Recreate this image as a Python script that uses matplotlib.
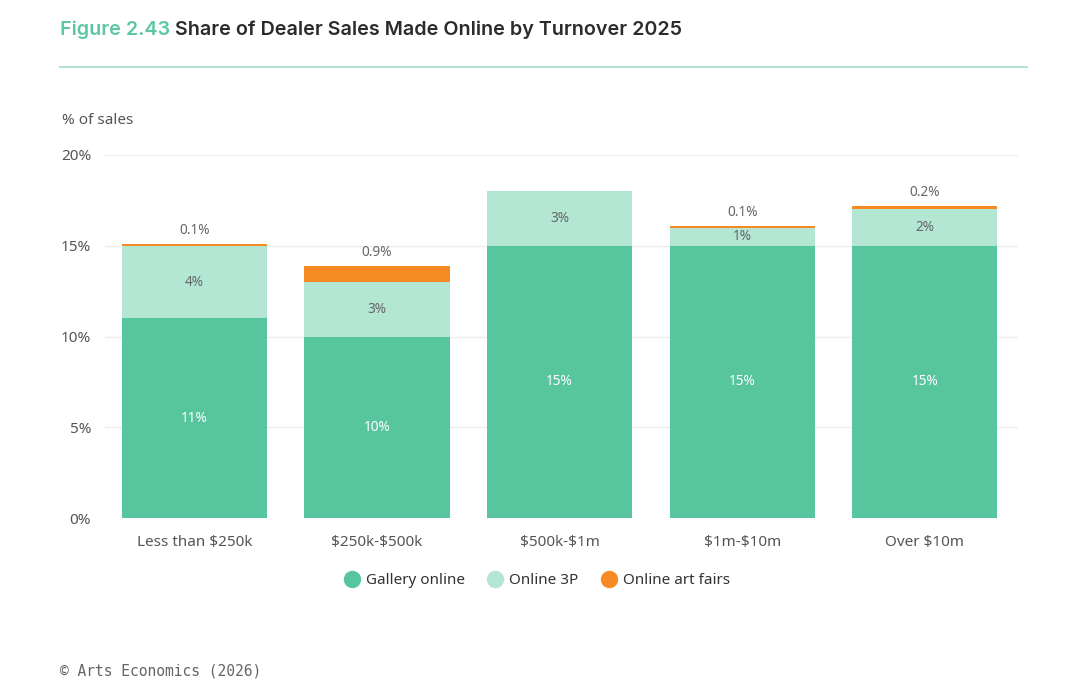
import matplotlib
matplotlib.use("Agg")
import matplotlib.pyplot as plt
from matplotlib.lines import Line2D

plt.rcParams["text.parse_math"] = False

categories = ["Less than $250k", "$250k-$500k", "$500k-$1m", "$1m-$10m", "Over $10m"]
gallery_online = [11, 10, 15, 15, 15]
online_3p = [4, 3, 3, 1, 2]
online_fairs = [0.1, 0.9, 0.0, 0.1, 0.2]
series_names = ["Gallery online", "Online 3P", "Online art fairs"]
y_ticks = [0, 5, 10, 15, 20]

c_gal = "#57c59e"
c_3p = "#b3e6d3"
c_fair = "#f58b22"
txt_gray = "#666666"
font = ["Noto Sans", "DejaVu Sans"]

fig = plt.figure(figsize=(10.8, 6.95), dpi=100)
ax = fig.add_axes([105/1080, 1-518/695, (1018-105)/1080, (518-155)/695])

x = list(range(len(categories)))
w = 0.795
ax.bar(x, gallery_online, width=w, color=c_gal, zorder=2)
ax.bar(x, online_3p, width=w, bottom=gallery_online, color=c_3p, zorder=2)
bottoms2 = [g + p for g, p in zip(gallery_online, online_3p)]
ax.bar(x, online_fairs, width=w, bottom=bottoms2, color=c_fair, zorder=2)

for i in x:
    g, p, f = gallery_online[i], online_3p[i], online_fairs[i]
    ax.text(i, g/2, f"{g:g}%", ha="center", va="center", color="white", fontsize=9.8, family=font, zorder=3)
    ax.text(i, g + p/2, f"{p:g}%", ha="center", va="center", color=txt_gray, fontsize=9.8, family=font, zorder=3)
    if f > 0:
        ax.annotate(f"{f:g}%", (i, g + p + f), xytext=(0, 4), textcoords="offset points",
                    ha="center", va="bottom", color=txt_gray, fontsize=9.8, family=font)

ax.set_xlim(-0.49, 4.51)
ax.set_ylim(0, 20)
ax.set_yticks(y_ticks)
ax.set_yticklabels([f"{t}%" for t in y_ticks])
ax.set_xticks(x)
ax.set_xticklabels(categories)
for lab in ax.get_xticklabels() + ax.get_yticklabels():
    lab.set_family(font)
    lab.set_fontsize(11)
    lab.set_color("#555555")
ax.tick_params(axis="both", length=0)
ax.tick_params(axis="x", pad=12)
ax.tick_params(axis="y", pad=10)
ax.grid(axis="y", color="#eeeeee", linewidth=1, zorder=0)
for s in ax.spines.values():
    s.set_visible(False)

# title
fig.text(60/1080, 1-30/695, "Figure 2.43", color="#5cc8a0", fontsize=14.2, family=["Inter", "DejaVu Sans"],
         fontweight="semibold", va="center", ha="left")
fig.text(175/1080, 1-30/695, "Share of Dealer Sales Made Online by Turnover 2025", color="#2b2b2b",
         fontsize=14.2, family=["Inter", "DejaVu Sans"], fontweight="semibold", va="center", ha="left")
fig.add_artist(Line2D([60/1080, 1027/1080], [1-67/695, 1-67/695], color="#a8dfcb", linewidth=1.3))

fig.text(62/1080, 1-121/695, "% of sales", color="#555555", fontsize=11, family=font, va="center", ha="left")

handles = [Line2D([], [], marker="o", linestyle="none", markersize=11.5, markerfacecolor=c, markeredgecolor=c)
           for c in (c_gal, c_3p, c_fair)]
leg = fig.legend(handles, series_names, loc="center", bbox_to_anchor=(537/1080, 1-581/695), ncol=3,
                 frameon=False, handlelength=1.0, handletextpad=0.4, columnspacing=1.5,
                 prop={"family": font, "size": 11})
for t in leg.get_texts():
    t.set_color("#333333")

fig.text(60/1080, 1-671/695, "© Arts Economics (2026)", color="#666666", fontsize=10.5,
         family=["DejaVu Sans Mono", "Liberation Mono"], va="center", ha="left")

fig.savefig("out.png", dpi=100, facecolor="white")
